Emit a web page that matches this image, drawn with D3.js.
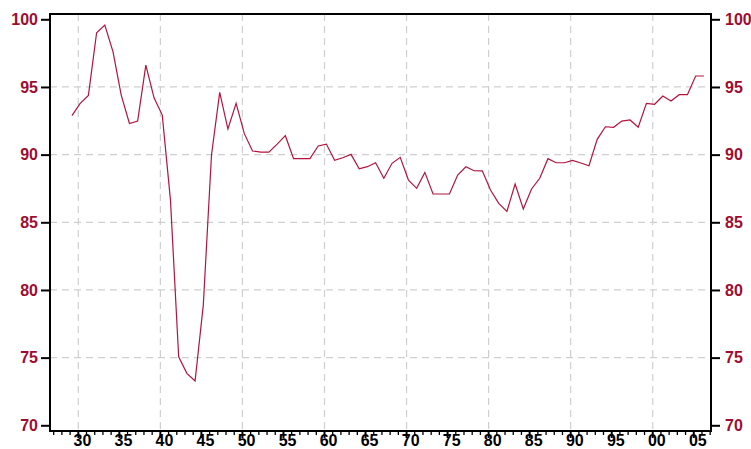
<!DOCTYPE html>
<html>
<head>
<meta charset="utf-8">
<script src="https://cdn.jsdelivr.net/npm/d3@7"></script>
<style>
  body { margin: 0; background: #fff; }
  svg { display: block; }
  text { font-family: "Liberation Sans", Arial, sans-serif; font-weight: bold; }
</style>
</head>
<body>
<div id="chart"></div>
<script>
// annual observations, 1929 - 2006
const years = d3.range(1929, 2007)
const values = [
    92.88, 93.79, 94.38, 99.01, 99.58, 97.6, 94.4, 92.3, 92.48, 96.62,
    94.2, 92.92, 86.64, 75.06, 73.84, 73.27, 78.88, 89.97, 94.6, 91.89,
    93.79, 91.55, 90.27, 90.19, 90.19, 90.78, 91.4, 89.7, 89.7, 89.7,
    90.64, 90.78, 89.58, 89.77, 90.02, 88.96, 89.11, 89.4, 88.25, 89.36,
    89.8, 88.12, 87.51, 88.69, 87.09, 87.09, 87.09, 88.49, 89.1, 88.81,
    88.8, 87.38, 86.4, 85.81, 87.83, 85.98, 87.46, 88.25, 89.7, 89.4,
    89.4, 89.58, 89.38, 89.18, 91.13, 92.06, 92.02, 92.48, 92.56, 92.02,
    93.79, 93.72, 94.33, 93.96, 94.43, 94.43, 95.81, 95.81
]
const yTicks = [70, 75, 80, 85, 90, 95, 100]
const yGrid = [75, 80, 85, 90, 95]
const xGrid = [1930, 1940, 1950, 1960, 1970, 1980, 1990, 2000]
const xLabelYears = d3.range(1930, 2006, 5)
const minorYears = d3.range(1927, 2008)

const width = 751, height = 449
const frame = {left: 50, right: 711, top: 14, bottom: 431}
const lineColor = "#b3143c"
const labelColor = "#a00c2f"

const svg = d3.select("#chart").append("svg")
    .attr("width", width).attr("height", height)

const x = d3.scaleLinear().domain([1926.55, 2007.1]).range([frame.left, frame.right])
const y = d3.scaleLinear().domain([70, 100]).range([425.3, 19.3])

// grid
const grid = svg.append("g").attr("stroke", "#cfcfcf").attr("stroke-width", 1.2)
    .attr("stroke-dasharray", "7,5")
grid.selectAll("line.h").data(yGrid).enter().append("line")
    .attr("x1", frame.left).attr("x2", frame.right)
    .attr("y1", d => y(d)).attr("y2", d => y(d))
grid.selectAll("line.v").data(xGrid).enter().append("line")
    .attr("x1", d => x(d)).attr("x2", d => x(d))
    .attr("y1", frame.top).attr("y2", frame.bottom)

// series, plotted a little past the start of each year
const line = d3.line()
    .x((d, i) => x(years[i] + 0.23))
    .y(d => y(d))
svg.append("path")
    .datum(values)
    .attr("d", line)
    .attr("fill", "none")
    .attr("stroke", lineColor)
    .attr("stroke-width", 1.2)

// left / right axes
const leftAxis = d3.axisLeft(y).tickValues(yTicks).tickSize(9).tickPadding(3)
const rightAxis = d3.axisRight(y).tickValues(yTicks).tickSize(9).tickPadding(5)

function styleY(g) {
    g.select(".domain").remove()
    g.selectAll(".tick line").attr("stroke", "#000").attr("stroke-width", 2)
    g.selectAll(".tick text")
        .attr("fill", labelColor)
        .style("font-size", "16px")
        .style("font-family", "'Liberation Sans', Arial, sans-serif")
        .style("font-weight", "bold")
}
svg.append("g").attr("transform", `translate(${frame.left},0)`).call(leftAxis).call(styleY)
svg.append("g").attr("transform", `translate(${frame.right},0)`).call(rightAxis).call(styleY)

// bottom ticks: minor every year, major every five
const bottom = svg.append("g").attr("stroke", "#000")
bottom.selectAll("line").data(minorYears).enter().append("line")
    .attr("x1", d => x(d)).attr("x2", d => x(d))
    .attr("y1", frame.bottom)
    .attr("y2", d => frame.bottom + (d % 5 == 0 ? 7 : 4))
    .attr("stroke-width", d => d % 5 == 0 ? 2 : 1.3)

svg.append("g").selectAll("text").data(xLabelYears).enter().append("text")
    .attr("x", d => x(d + 0.5))
    .attr("y", 445.5)
    .attr("text-anchor", "middle")
    .attr("fill", "#000")
    .style("font-size", "16px")
    .text(d => String(d % 100).padStart(2, "0"))

// frame
svg.append("rect")
    .attr("x", frame.left).attr("y", frame.top)
    .attr("width", frame.right - frame.left)
    .attr("height", frame.bottom - frame.top)
    .attr("fill", "none")
    .attr("stroke", "#000")
    .attr("stroke-width", 2)
</script>
</body>
</html>
